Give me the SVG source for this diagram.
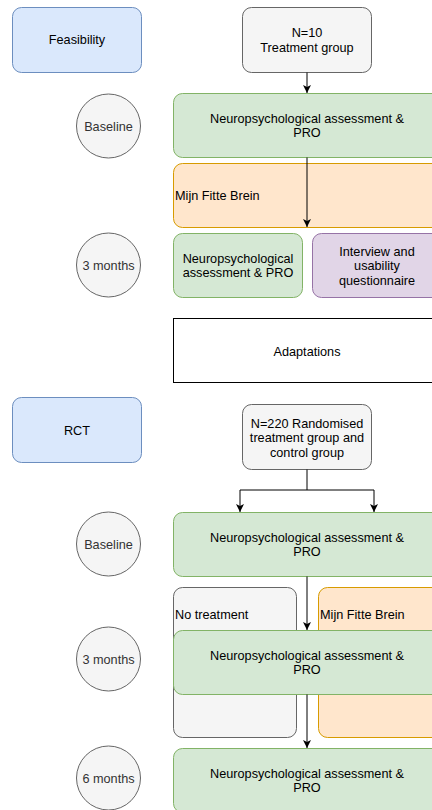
<svg xmlns="http://www.w3.org/2000/svg" width="432" height="810" viewBox="0 0 432 810">
<style>
text{font-family:"Liberation Sans",Arial,Helvetica,sans-serif;font-size:12.7px;fill:#000;text-anchor:middle}
.blue{fill:#dae8fc;stroke:#6c8ebf}
.gray{fill:#f5f5f5;stroke:#666666}
.green{fill:#d5e8d4;stroke:#82b366}
.orange{fill:#ffe6cc;stroke:#d79b00}
.purple{fill:#e1d5e7;stroke:#9673a6}
.plain{fill:#ffffff;stroke:#000000}
.circ{fill:#f5f5f5;stroke:#666666}
.ct{fill:#333333}
.left{text-anchor:start}
.edge{fill:none;stroke:#000;stroke-width:1}
</style>
<defs>
<marker id="arr" viewBox="0 0 8 8" refX="8" refY="4" markerWidth="8" markerHeight="8" markerUnits="userSpaceOnUse" orient="auto">
<path d="M0,0 L8,4 L0,8 L2,4 Z" fill="#000"/>
</marker>
</defs>

<g id="feasibility"><rect class="blue" x="12.5" y="7.5" width="129" height="65" rx="9"/><text x="77" y="44">Feasibility</text></g>
<g id="n10"><rect class="gray" x="242.5" y="7.5" width="129" height="65" rx="9"/><text x="307" y="37">N=10</text><text x="307" y="52">Treatment group</text></g>
<g id="baseline1"><circle class="circ" cx="108.5" cy="126" r="32"/><text class="ct" x="108.5" y="130.5">Baseline</text></g>
<g id="assess1"><rect class="green" x="173.5" y="93.5" width="268" height="64" rx="9"/><text x="307" y="122.5">Neuropsychological assessment &amp;</text><text x="307" y="137">PRO</text></g>
<g id="mfb1"><rect class="orange" x="173.5" y="163.5" width="268" height="64" rx="9"/><text class="left" x="175" y="200">Mijn Fitte Brein</text></g>
<g id="months3a"><circle class="circ" cx="108.5" cy="265" r="32"/><text class="ct" x="108.5" y="269.5">3 months</text></g>
<g id="assess2"><rect class="green" x="173.5" y="233.5" width="129" height="64" rx="9"/><text x="238" y="262.5">Neuropsychological</text><text x="238" y="277">assessment &amp; PRO</text></g>
<g id="interview"><rect class="purple" x="312.5" y="233.5" width="129" height="64" rx="9"/><text x="377" y="255.5">Interview and</text><text x="377" y="270">usability</text><text x="377" y="284.5">questionnaire</text></g>
<g id="adaptations"><rect class="plain" x="173.5" y="318.5" width="268" height="64"/><text x="307" y="355.5">Adaptations</text></g>
<g id="rct"><rect class="blue" x="12.5" y="397.5" width="129" height="65" rx="9"/><text x="77" y="434.5">RCT</text></g>
<g id="n220"><rect class="gray" x="242.5" y="404.5" width="129" height="65" rx="9"/><text x="307" y="427.5">N=220 Randomised</text><text x="307" y="442">treatment group and</text><text x="307" y="456.5">control group</text></g>
<g id="baseline2"><circle class="circ" cx="108.5" cy="544" r="32"/><text class="ct" x="108.5" y="548.5">Baseline</text></g>
<g id="assess3"><rect class="green" x="173.5" y="512.5" width="268" height="64" rx="9"/><text x="307" y="541.5">Neuropsychological assessment &amp;</text><text x="307" y="556">PRO</text></g>
<g id="notreatment"><rect class="gray" x="173.5" y="587.5" width="123" height="150" rx="9"/><text class="left" x="175" y="619">No treatment</text></g>
<g id="mfb2"><rect class="orange" x="318.5" y="587.5" width="123" height="150" rx="9"/><text class="left" x="320" y="619">Mijn Fitte Brein</text></g>
<g id="months3b"><circle class="circ" cx="108.5" cy="659" r="32"/><text class="ct" x="108.5" y="663.5">3 months</text></g>
<g id="assess4"><rect class="green" x="173.5" y="630.5" width="268" height="64" rx="9"/><text x="307" y="659.5">Neuropsychological assessment &amp;</text><text x="307" y="674">PRO</text></g>
<g id="months6"><circle class="circ" cx="108.5" cy="778" r="32"/><text class="ct" x="108.5" y="782.5">6 months</text></g>
<g id="assess5"><rect class="green" x="173.5" y="748.5" width="268" height="64" rx="9"/><text x="307" y="777.5">Neuropsychological assessment &amp;</text><text x="307" y="792">PRO</text></g>

<g id="connectors">
<path class="edge" d="M307,72.5 V93" marker-end="url(#arr)"/>
<path class="edge" d="M307,157.5 V227" marker-end="url(#arr)"/>
<path class="edge" d="M307,469.5 V490 H240 V512" marker-end="url(#arr)"/>
<path class="edge" d="M307,490 H374 V512" marker-end="url(#arr)"/>
<path class="edge" d="M307,576.5 V630" marker-end="url(#arr)"/>
<path class="edge" d="M307,694.5 V748" marker-end="url(#arr)"/>
</g>
</svg>
